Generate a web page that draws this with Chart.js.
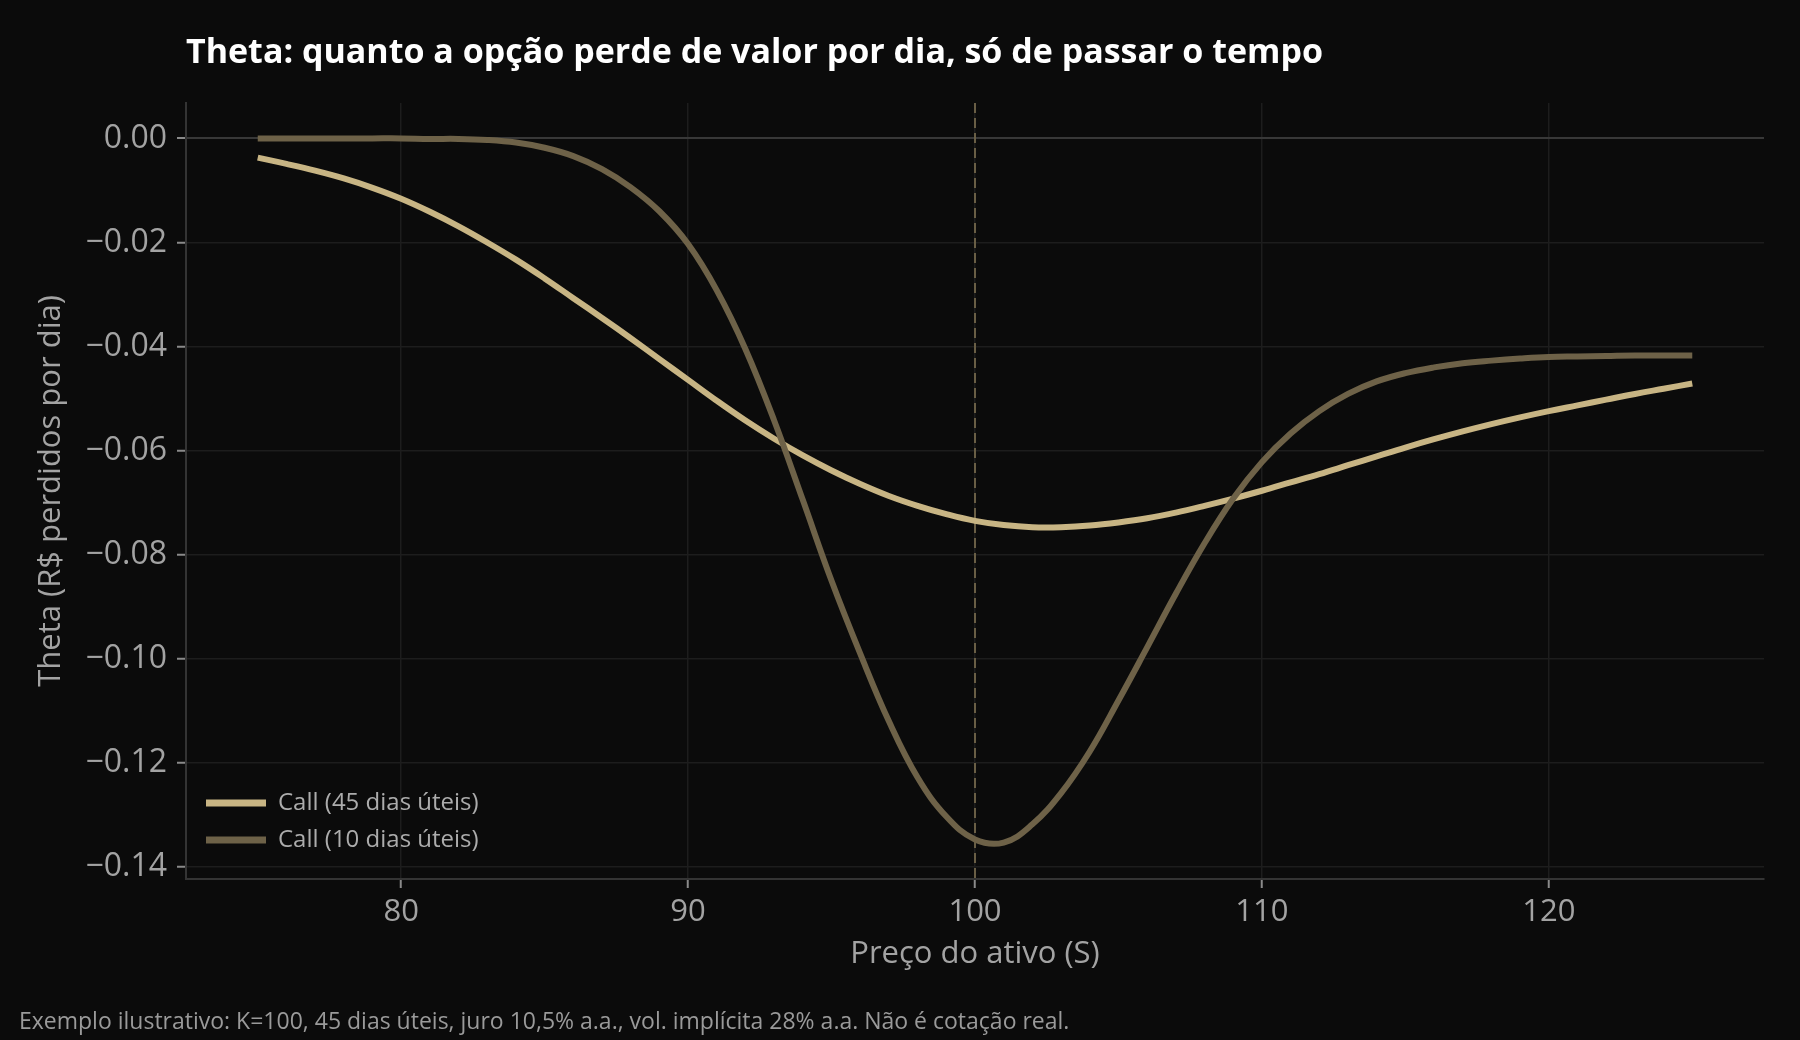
<!DOCTYPE html>
<html lang="pt-BR">
<head>
<meta charset="utf-8">
<title>Theta</title>
<script src="https://cdn.jsdelivr.net/npm/chart.js@4.4.1/dist/chart.umd.min.js"></script>
<style>
  html, body { margin: 0; padding: 0; background: #0b0b0b; }
  #wrap { position: relative; width: 1800px; height: 1040px; }
</style>
</head>
<body>
<div id="wrap"><canvas id="theta" width="1800" height="1040"></canvas></div>
<script>
// preço do ativo (eixo x)
const precos = [75, 76, 77, 78, 79, 80, 81, 82, 83, 84, 85, 86, 87, 88, 89, 90, 91, 92, 93, 94, 95, 96, 97, 98, 99, 100,
  101, 102, 103, 104, 105, 106, 107, 108, 109, 110, 111, 112, 113, 114, 115, 116, 117, 118, 119, 120, 121, 122, 123, 124, 125];

// theta por dia, call com 45 dias úteis
const theta45 = [-0.0037, -0.0049, -0.0062, -0.0077, -0.0095, -0.0116, -0.0141, -0.0169, -0.0200, -0.0233, -0.0269, -0.0307, -0.0345,
  -0.0384, -0.0424, -0.0464, -0.0504, -0.0542, -0.0577, -0.0609, -0.0638, -0.0664, -0.0687, -0.0706, -0.0722, -0.0735,
  -0.0743, -0.0747, -0.0747, -0.0744, -0.0738, -0.0730, -0.0719, -0.0706, -0.0692, -0.0677, -0.0661, -0.0645, -0.0628,
  -0.0611, -0.0594, -0.0578, -0.0563, -0.0549, -0.0536, -0.0524, -0.0513, -0.0502, -0.0491, -0.0481, -0.0471];

// theta por dia, call com 10 dias úteis
const theta10 = [0, 0, 0, 0, 0, 0, -0.0001, -0.0001, -0.0003, -0.0008, -0.0018, -0.0034, -0.0059, -0.0094, -0.0140, -0.0203,
  -0.0292, -0.0405, -0.0542, -0.0695, -0.0850, -0.0990, -0.1120, -0.1228, -0.1303, -0.1347, -0.1353, -0.1318, -0.1258,
  -0.1178, -0.1080, -0.0978, -0.0875, -0.0778, -0.0692, -0.0622, -0.0567, -0.0524, -0.0491, -0.0467, -0.0451, -0.0440,
  -0.0432, -0.0427, -0.0423, -0.0420, -0.0419, -0.0418, -0.0417, -0.0417, -0.0417];

const xTicks = [80, 90, 100, 110, 120];
const yTicks = [-0.14, -0.12, -0.10, -0.08, -0.06, -0.04, -0.02, 0];
const yTickLabels = ['−0.14', '−0.12', '−0.10', '−0.08', '−0.06', '−0.04', '−0.02', '0.00'];
const strike = 100;

const FONT = "'Open Sans', 'Noto Sans', sans-serif";
const corClara = '#c8b584';
const corEscura = '#6e6248';

const bgPlugin = {
  id: 'fundo',
  beforeDraw(chart) {
    const ctx = chart.ctx;
    ctx.save();
    ctx.fillStyle = '#0b0b0b';
    ctx.fillRect(0, 0, chart.width, chart.height);
    ctx.restore();
  },
  afterLayout(chart) {
    // legenda dentro do gráfico, canto inferior esquerdo
    const l = chart.legend;
    const h = l.bottom - l.top;
    l.bottom = chart.chartArea.bottom - 14;
    l.top = l.bottom - h;
    l.left = chart.chartArea.left + 7;
  },
  beforeDatasetsDraw(chart) {
    // linha tracejada no strike
    const ctx = chart.ctx;
    const x = chart.scales.x.getPixelForValue(strike);
    const area = chart.chartArea;
    ctx.save();
    ctx.strokeStyle = 'rgba(110, 98, 72, 0.95)';
    ctx.lineWidth = 2;
    ctx.setLineDash([10, 5]);
    ctx.beginPath();
    ctx.moveTo(x, area.top);
    ctx.lineTo(x, area.bottom);
    ctx.stroke();
    ctx.restore();
  },
  afterDraw(chart) {
    const ctx = chart.ctx;
    ctx.save();
    ctx.textBaseline = 'alphabetic';
    ctx.fillStyle = '#ffffff';
    ctx.font = 'bold 34px ' + FONT;
    ctx.fillText('Theta: quanto a opção perde de valor por dia, só de passar o tempo', 186, 63);
    ctx.fillStyle = '#9a9a9a';
    ctx.font = '23px ' + FONT;
    ctx.fillText('Exemplo ilustrativo: K=100, 45 dias úteis, juro 10,5% a.a., vol. implícita 28% a.a. Não é cotação real.', 19, 1029);
    ctx.restore();
  }
};

new Chart(document.getElementById('theta'), {
  type: 'line',
  data: {
    datasets: [
      {
        label: 'Call (45 dias úteis)',
        data: precos.map((p, i) => ({ x: p, y: theta45[i] })),
        borderColor: corClara,
        backgroundColor: corClara,
        borderWidth: 6,
        pointRadius: 0,
        tension: 0.4,
        order: 1
      },
      {
        label: 'Call (10 dias úteis)',
        data: precos.map((p, i) => ({ x: p, y: theta10[i] })),
        borderColor: corEscura,
        backgroundColor: corEscura,
        borderWidth: 6,
        pointRadius: 0,
        tension: 0.4,
        order: 0
      }
    ]
  },
  options: {
    responsive: false,
    animation: false,
    devicePixelRatio: 1,
    layout: { padding: { top: 103, right: 36, bottom: 67, left: 0 } },
    plugins: {
      title: { display: false },
      tooltip: { enabled: false },
      legend: {
        position: 'chartArea',
        align: 'end',
        labels: {
          color: '#acacac',
          font: { family: FONT, size: 24 },
          boxWidth: 60,
          boxHeight: 7,
          padding: 13,
          generateLabels: chart => chart.data.datasets.map((d, i) => ({
            text: d.label,
            fillStyle: d.borderColor,
            strokeStyle: d.borderColor,
            lineWidth: 0,
            fontColor: '#acacac',
            hidden: false,
            datasetIndex: i
          }))
        }
      }
    },
    scales: {
      x: {
        type: 'linear',
        min: 72.5,
        max: 127.5,
        afterFit: s => { s.height = 94; },
        afterBuildTicks: s => { s.ticks = xTicks.map(v => ({ value: v })); },
        ticks: {
          autoSkip: false,
          color: '#a3a3a3',
          font: { family: FONT, size: 31 },
          padding: 6,
          callback: v => String(v)
        },
        grid: { color: '#1d1d1d', lineWidth: 1.5, tickColor: '#8a8a8a', tickLength: 9, tickWidth: 2 },
        border: { color: '#343434', width: 2 },
        title: {
          display: true,
          text: 'Preço do ativo (S)',
          color: '#a3a3a3',
          font: { family: FONT, size: 31 },
          padding: { top: 0, bottom: 0 }
        }
      },
      y: {
        type: 'linear',
        min: -0.1423,
        max: 0.0068,
        afterFit: s => { s.width = 186; },
        afterBuildTicks: s => { s.ticks = yTicks.map(v => ({ value: v })); },
        ticks: {
          autoSkip: false,
          color: '#a3a3a3',
          font: { family: FONT, size: 32 },
          padding: 10,
          callback: (v, i) => yTickLabels[i]
        },
        grid: {
          color: c => (c.tick && c.tick.value === 0 ? '#383838' : '#1d1d1d'),
          lineWidth: c => (c.tick && c.tick.value === 0 ? 2 : 1.5),
          tickColor: '#8a8a8a',
          tickLength: 9,
          tickWidth: 2
        },
        border: { color: '#343434', width: 2 },
        title: {
          display: true,
          text: 'Theta (R$ perdidos por dia)',
          color: '#a3a3a3',
          font: { family: FONT, size: 31 },
          padding: { top: 33, bottom: 0 }
        }
      }
    }
  },
  plugins: [bgPlugin]
});
</script>
</body>
</html>
